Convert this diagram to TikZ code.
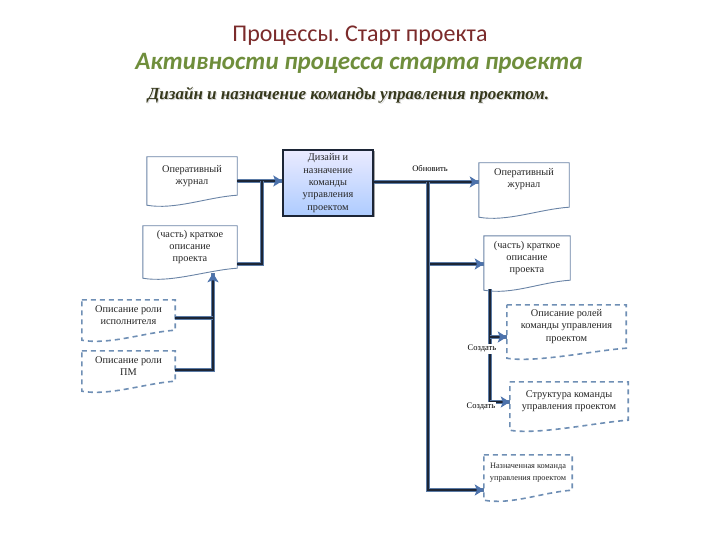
\documentclass[tikz,border=0pt]{standalone}
\usepackage{fontspec}
\setmainfont{Liberation Serif}
\newfontfamily\calibri{Carlito}
\usepackage{xcolor}
\usetikzlibrary{arrows.meta}
\usetikzlibrary{calc}
\usetikzlibrary{shadows}
\usetikzlibrary{positioning}
\frenchspacing

\definecolor{titlered}{HTML}{7B2B2B}
\definecolor{titlegreen}{HTML}{6F8E3C}
\definecolor{subdark}{HTML}{36381C}
\definecolor{docline}{HTML}{6A84A6}
\definecolor{dashline}{HTML}{6F8FB5}
\definecolor{connnavy}{HTML}{1C2536}
\definecolor{connedge}{HTML}{5B7BA6}
\definecolor{tipblue}{HTML}{4C72AC}

% outline of a document shape round a node: [style]{node}
\newcommand{\docshape}[2][]{%
  \draw[#1] (#2.north west) -- (#2.north east) -- (#2.south east)
    .. controls ([xshift=-30pt,yshift=-2pt]#2.south east) and ([xshift=28pt,yshift=-15pt]#2.south west)
    .. ([yshift=-10pt]#2.south west) -- cycle;}

\begin{document}
\begin{tikzpicture}[x=1pt,y=-1pt,every path/.style={>={Stealth[length=9pt,width=11pt,inset=2pt,color=tipblue]}}]
		\useasboundingbox (0,0) rectangle (720,540);
		\tikzset{
			doctext/.style={align=center,inner sep=1pt,font=\fontsize{10.3}{12.3}\selectfont,text=black!85},
			docsolid/.style={draw=docline,line width=0.9pt,fill=white},
			docdashed/.style={draw=dashline,line width=1.6pt,dash pattern=on 5pt off 4pt,fill=white},
			conn/.style={draw=connnavy,line width=2.8pt,preaction={draw=connedge,line width=4.4pt,-}},
			connlabel/.style={fill=white,inner sep=1pt,font=\fontsize{8.5}{10}\selectfont}
		}

		% titles
		\node (T1) at (360,36) {\calibri\fontsize{24}{28}\selectfont\color{titlered}Процессы. Старт проекта};
		\node (T2) at (359,63) {\calibri\bfseries\itshape\fontsize{25}{29}\selectfont\color{titlegreen}Активности процесса старта проекта};
		\node (T3s) at (349.6,96.6) {\bfseries\itshape\fontsize{17}{20}\selectfont\color{black!15}Дизайн и назначение команды управления проектом.};
		\node (T3) at (348.5,95.5) {\bfseries\itshape\fontsize{17}{20}\selectfont\color{subdark}Дизайн и назначение команды управления проектом.};

		% draw input documents
		\node (OJ1) at (192,176) [doctext,minimum width=90pt,minimum height=38pt] {};
		\docshape[docsolid]{OJ1}
		\node at (OJ1) [doctext] {Оперативный\\журнал};

		\node (KO1) at (190,247) [doctext,minimum width=94pt,minimum height=42pt] {};
		\docshape[docsolid]{KO1}
		\node at (KO1) [doctext] {(часть) краткое\\описание\\проекта};

		\node (RI) at (128.5,315) [doctext,minimum width=93pt,minimum height=30pt] {};
		\docshape[docdashed]{RI}
		\node at (RI) [doctext] {Описание роли\\исполнителя};

		\node (RPM) at (128.5,366) [doctext,minimum width=93pt,minimum height=30pt] {};
		\docshape[docdashed]{RPM}
		\node at (RPM) [doctext] {Описание роли\\ПМ};

		% draw activity
		\node (DZ) at (328,183) [doctext,draw=connnavy,line width=1.3pt,top color=blue!8!white,bottom color=blue!30!cyan!20!white!85!blue,
			drop shadow={shadow xshift=1.5pt,shadow yshift=-1.5pt,fill=black!70},minimum width=90pt,minimum height=66pt] {Дизайн и\\назначение\\команды\\управления\\проектом};

		% draw output documents
		\node (OJ2) at (524,185) [doctext,minimum width=90pt,minimum height=44pt] {};
		\docshape[docsolid]{OJ2}
		\node at ([yshift=6pt]OJ2.center) [doctext] {Оперативный\\журнал};

		\node (KO2) at (527,258) [doctext,minimum width=86pt,minimum height=44pt] {};
		\docshape[docsolid]{KO2}
		\node at (KO2) [doctext] {(часть) краткое\\описание\\проекта};

		\node (RK) at (566.5,326.5) [doctext,minimum width=119pt,minimum height=43pt] {};
		\docshape[docdashed]{RK}
		\node at (RK) [doctext] {Описание ролей\\команды управления\\проектом};

		\node (SK) at (569,401) [doctext,minimum width=118pt,minimum height=38pt] {};
		\docshape[docdashed]{SK}
		\node at (SK) [doctext] {Структура команды\\управления проектом};

		\node (NK) at (528,472.5) [doctext,minimum width=88pt,minimum height=35pt] {};
		\docshape[docdashed]{NK}
		\node at (NK) [doctext,font=\fontsize{8.3}{12}\selectfont] {Назначенная команда\\управления проектом};

		% junction points
		\coordinate (J1) at (262,181);
		\coordinate (J2) at (262,264);
		\coordinate (J3) at (213,318);
		\coordinate (J4) at (213,370);
		\coordinate (J5) at (428,182);
		\coordinate (J6) at (428,264);
		\coordinate (J7) at (428,490);
		\coordinate (J8) at (490,337);
		\coordinate (J9) at (490,402);

		% draw lines into the activity
		\draw[conn,->] (OJ1.east |- J1) to (DZ.west |- J1);
		\draw[conn] (KO1.east |- J2) to (J2) to (J1);
		\draw[conn,->] (RPM.east |- J4) to (J4) to ([yshift=-5pt]KO1.south -| J4);
		\draw[conn] (RI.east |- J3) to (J3);

		% draw lines out of the activity
		\draw[conn,->] (DZ.east |- J5) to (OJ2.west |- J5);
		\draw[conn,->] (J6) to (KO2.west |- J6);
		\draw[conn,->] (J5) to (J7) to (NK.west |- J7);
		\draw[conn] ([yshift=-9pt]KO2.south -| J8) to (J9);
		\draw[conn,->] (J8) to (RK.west |- J8);
		\draw[conn,->] (J9) to (SK.west |- J9);

		% draw labels on the lines
		\node[connlabel] (L1) at (430,169) {Обновить};
		\node[connlabel] (L2) at (482,349) {Создать};
		\node[connlabel] (L3) at (481,407) {Создать};
	\end{tikzpicture}
\end{document}
